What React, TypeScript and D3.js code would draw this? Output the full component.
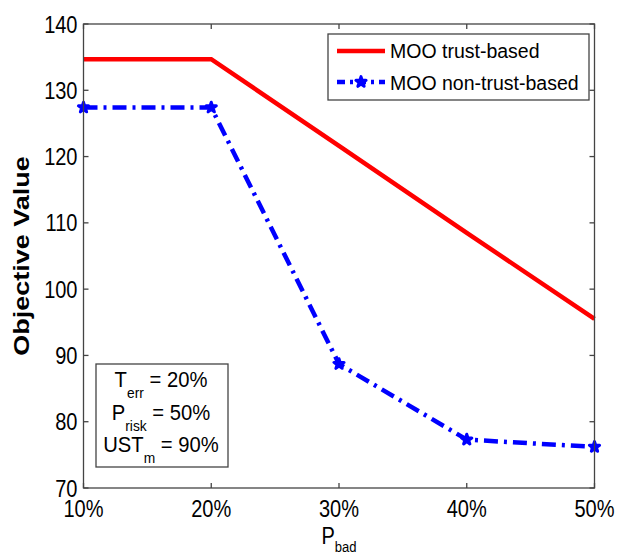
import React from "react";
import * as d3 from "d3";

const categories = ["10%", "20%", "30%", "40%", "50%"];
const xValues = [10, 20, 30, 40, 50];
const trustBased = [134.7, 134.7, 121.6, 108.5, 95.5];
const nonTrustBased = [127.4, 127.4, 88.7, 77.3, 76.2];
const yTicks = [70, 80, 90, 100, 110, 120, 130, 140];
const seriesNames = ["MOO trust-based", "MOO non-trust-based"];

const W = 618, H = 556;
const L = 83.5, R = 594.5, T = 24, B = 488;
const FONT = "'Liberation Sans', Arial, Helvetica, sans-serif";

function CText({ x, y, size, anchor = "start", sx = 0.87, children }: any) {
  return (
    <text
      transform={`translate(${x},${y}) scale(${sx},1)`}
      textAnchor={anchor}
      fontSize={size}
      fill="#000"
    >
      {children}
    </text>
  );
}

export default function App() {
  const x = d3.scaleLinear().domain([10, 50]).range([L, R]);
  const y = d3.scaleLinear().domain([70, 140]).range([B, T]);
  const line = d3.line<number>().x((_, i) => x(xValues[i])).y((d) => y(d));
  const star = d3.symbol().type(d3.symbolStar).size(32)() || "";
  const tl = 5;
  const axisColor = "#444";
  return (
    <svg width={W} height={H} style={{ position: "absolute", left: 0, top: 0, background: "#fff" }} fontFamily={FONT}>
      <rect x={0} y={0} width={W} height={H} fill="#fff" />
      {/* lines */}
      <path d={line(trustBased) || ""} fill="none" stroke="#ff0000" strokeWidth={4.5} />
      <path d={line(nonTrustBased) || ""} fill="none" stroke="#0000ff" strokeWidth={4.5} strokeDasharray="14,6,3,6" />
      {nonTrustBased.map((v, i) => (
        <g key={i} transform={`translate(${x(xValues[i])},${y(v)})`}>
          <path d={star} fill="#0000ff" stroke="#0000ff" strokeWidth={3} strokeLinejoin="round" />
        </g>
      ))}
      {/* axes box */}
      <rect x={L} y={T} width={R - L} height={B - T} fill="none" stroke={axisColor} strokeWidth={1.3} />
      {yTicks.map((t) => (
        <g key={t}>
          <line x1={L} x2={L + tl} y1={y(t)} y2={y(t)} stroke={axisColor} strokeWidth={1.3} />
          <line x1={R} x2={R - tl} y1={y(t)} y2={y(t)} stroke={axisColor} strokeWidth={1.3} />
          <CText x={L - 6} y={y(t) + 8.5} size={23} anchor="end">{t}</CText>
        </g>
      ))}
      {xValues.map((v, i) => (
        <g key={v}>
          <line x1={x(v)} x2={x(v)} y1={B} y2={B - tl} stroke={axisColor} strokeWidth={1.3} />
          <line x1={x(v)} x2={x(v)} y1={T} y2={T + tl} stroke={axisColor} strokeWidth={1.3} />
          <CText x={x(v)} y={516.5} size={23} anchor="middle">{categories[i]}</CText>
        </g>
      ))}
      {/* axis labels */}
      <text
        transform={`translate(29,${(T + B) / 2}) scale(0.85,1) rotate(-90)`}
        textAnchor="middle"
        fontSize={27}
        fontWeight="bold"
        fill="#000"
      >
        Objective Value
      </text>
      <CText x={x(30)} y={544} size={23} anchor="middle">
        <tspan>P</tspan><tspan fontSize={15} dy={8}>bad</tspan>
      </CText>
      {/* legend */}
      <rect x={328} y={34} width={261} height={66} fill="#fff" stroke={axisColor} strokeWidth={1.3} />
      <line x1={337} x2={385} y1={51} y2={51} stroke="#ff0000" strokeWidth={4.5} />
      <text x={390} y={58} fontSize={19.5} fill="#000">{seriesNames[0]}</text>
      <line x1={337} x2={385} y1={82} y2={82} stroke="#0000ff" strokeWidth={4.5} strokeDasharray="8,5,3,5" />
      <g transform="translate(361,82)">
        <path d={star} fill="#0000ff" stroke="#0000ff" strokeWidth={3} strokeLinejoin="round" />
      </g>
      <text x={390} y={89.5} fontSize={19.5} fill="#000">{seriesNames[1]}</text>
      {/* annotation */}
      <rect x={96} y={364} width={132} height={103} fill="#fff" stroke={axisColor} strokeWidth={1.3} />
      <CText x={161} y={387} size={22} anchor="middle" sx={0.92}>
        <tspan>T</tspan><tspan fontSize={15} dy={11}>err</tspan><tspan dy={-11}> = 20%</tspan>
      </CText>
      <CText x={161} y={420} size={22} anchor="middle" sx={0.92}>
        <tspan>P</tspan><tspan fontSize={15} dy={11}>risk</tspan><tspan dy={-11}> = 50%</tspan>
      </CText>
      <CText x={161} y={452} size={22} anchor="middle" sx={0.92}>
        <tspan>UST</tspan><tspan fontSize={15} dy={11}>m</tspan><tspan dy={-11}> = 90%</tspan>
      </CText>
    </svg>
  );
}
